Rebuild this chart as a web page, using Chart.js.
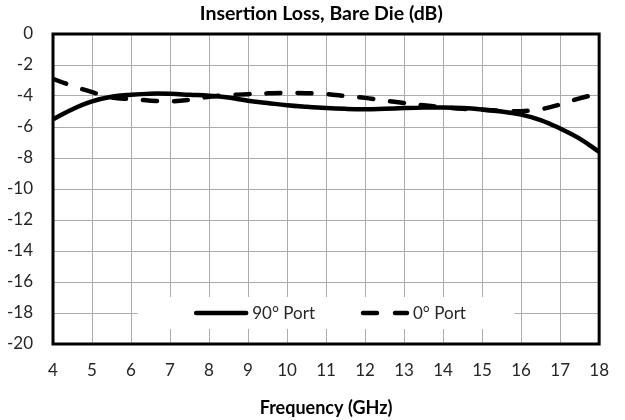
<!DOCTYPE html>
<html>
<head>
<meta charset="utf-8">
<script src="https://cdn.jsdelivr.net/npm/chart.js@4/dist/chart.umd.min.js"></script>
<style>
  html, body { margin: 0; padding: 0; background: #fff; }
  #wrap { width: 625px; height: 420px; }
</style>
</head>
<body>
<div id="wrap"><canvas id="lossChart" width="625" height="420"></canvas></div>
<script>
// values
const freqGHz = [4, 4.5, 5, 5.5, 6, 6.5, 7, 7.5, 8, 8.5, 9, 9.5, 10, 10.5, 11, 11.5, 12, 12.5, 13, 13.5, 14, 14.5, 15, 15.5, 16, 16.5, 17, 17.5, 18];
const port90 = [-5.5, -4.85, -4.35, -4.05, -3.92, -3.85, -3.86, -3.92, -3.98, -4.1, -4.3, -4.45, -4.6, -4.7, -4.78, -4.83, -4.85, -4.82, -4.78, -4.75, -4.74, -4.78, -4.87, -5.0, -5.2, -5.55, -6.1, -6.75, -7.6];
const port0 = [-2.9, -3.35, -3.75, -4.1, -4.2, -4.3, -4.35, -4.25, -4.05, -3.95, -3.88, -3.83, -3.8, -3.82, -3.88, -4.0, -4.12, -4.3, -4.45, -4.6, -4.72, -4.82, -4.88, -4.95, -4.98, -4.85, -4.55, -4.15, -3.85];
const seriesNames = ['90\u00b0 Port', '0\u00b0 Port'];
const xTicks = [4, 18, 1];     // min, max, step
const yTicks = [-20, 0, 2];
const chartTitle = 'Insertion Loss, Bare Die (dB)';

const FONT = 'Lato, "Open Sans", sans-serif';

function toPoints(xs, ys) {
    return xs.map((x, i) => ({ x: x, y: ys[i] }));
}

// title, legend inside the plot (on the -18 line) and the black frame
const chartDecor = {
    id: 'chartDecor',
    afterDatasetsDraw(chart) {
        const ctx = chart.ctx;
        const area = chart.chartArea;
        const yMid = chart.scales.y.getPixelForValue(-18);
        const boxW = 377, boxH = 32;
        const cx = (area.left + area.right) / 2;
        ctx.save();
        ctx.fillStyle = '#ffffff';
        ctx.fillRect(cx - boxW / 2, yMid - boxH / 2, boxW, boxH);

        ctx.font = '17px ' + FONT;
        ctx.textBaseline = 'middle';
        const sample = [54, 48];
        const gapText = 4, gapItem = 46;
        const ds = chart.data.datasets;
        let total = 0;
        ds.forEach((d, i) => {
            total += sample[i] + gapText + ctx.measureText(d.label).width;
            if (i < ds.length - 1) total += gapItem;
        });
        let x = cx - total / 2 + 4;
        ds.forEach((d, i) => {
            ctx.beginPath();
            ctx.lineWidth = d.borderWidth;
            ctx.strokeStyle = d.borderColor;
            ctx.lineCap = 'round';
            ctx.setLineDash(d.borderDash ? [14, 18] : []);
            ctx.moveTo(x + 2, yMid);
            ctx.lineTo(x + sample[i] - 2, yMid);
            ctx.stroke();
            ctx.setLineDash([]);
            x += sample[i] + gapText;
            ctx.fillStyle = '#262626';
            ctx.fillText(d.label, x, yMid + 1);
            x += ctx.measureText(d.label).width + gapItem;
        });
        ctx.restore();
    },
    afterDraw(chart) {
        const a = chart.chartArea;
        const ctx = chart.ctx;
        ctx.save();
        ctx.strokeStyle = '#000';
        ctx.lineWidth = 3;
        ctx.strokeRect(a.left, a.top, a.right - a.left, a.bottom - a.top);

        // title sits a bit left of the plot centre, as in the original
        ctx.fillStyle = '#000';
        ctx.font = 'bold 19.5px ' + FONT;
        ctx.textAlign = 'center';
        ctx.textBaseline = 'middle';
        ctx.fillText(chartTitle, (chart.width / 2 + (a.left + a.right) / 2) / 2 + 2, 14);
        ctx.restore();
    }
};

const ctx = document.getElementById('lossChart').getContext('2d');
new Chart(ctx, {
    type: 'line',
    data: {
        datasets: [
            {
                label: seriesNames[0],
                data: toPoints(freqGHz, port90),
                borderColor: '#000',
                borderWidth: 4.5,
                pointRadius: 0,
                tension: 0.4,
                fill: false
            },
            {
                label: seriesNames[1],
                data: toPoints(freqGHz, port0),
                borderColor: '#000',
                borderWidth: 4.5,
                borderDash: [14, 17],
                borderCapStyle: 'round',
                pointRadius: 0,
                tension: 0.4,
                fill: false
            }
        ]
    },
    options: {
        responsive: false,
        animation: false,
        layout: { padding: { left: 0, right: 14, top: 34, bottom: 0 } },
        plugins: {
            legend: { display: false },
            tooltip: { enabled: false },
            title: { display: false }
        },
        scales: {
            x: {
                type: 'linear',
                min: xTicks[0],
                max: xTicks[1],
                ticks: {
                    stepSize: xTicks[2],
                    color: '#262626',
                    padding: 16,
                    font: { family: FONT, size: 17 }
                },
                grid: { color: '#ababab', lineWidth: 1, drawTicks: false },
                border: { display: false },
                title: {
                    display: true,
                    text: 'Frequency (GHz)',
                    color: '#000',
                    font: { family: FONT, size: 18, weight: 'bold' },
                    padding: { top: 0, bottom: 1 }
                },
                afterFit(scale) { scale.height = 76; }
            },
            y: {
                min: yTicks[0],
                max: yTicks[1],
                ticks: {
                    stepSize: yTicks[2],
                    color: '#262626',
                    padding: 20,
                    font: { family: FONT, size: 17 }
                },
                grid: { color: '#ababab', lineWidth: 1, drawTicks: false },
                border: { display: false },
                afterFit(scale) { scale.width = 53; }
            }
        }
    },
    plugins: [chartDecor]
});
</script>
</body>
</html>
